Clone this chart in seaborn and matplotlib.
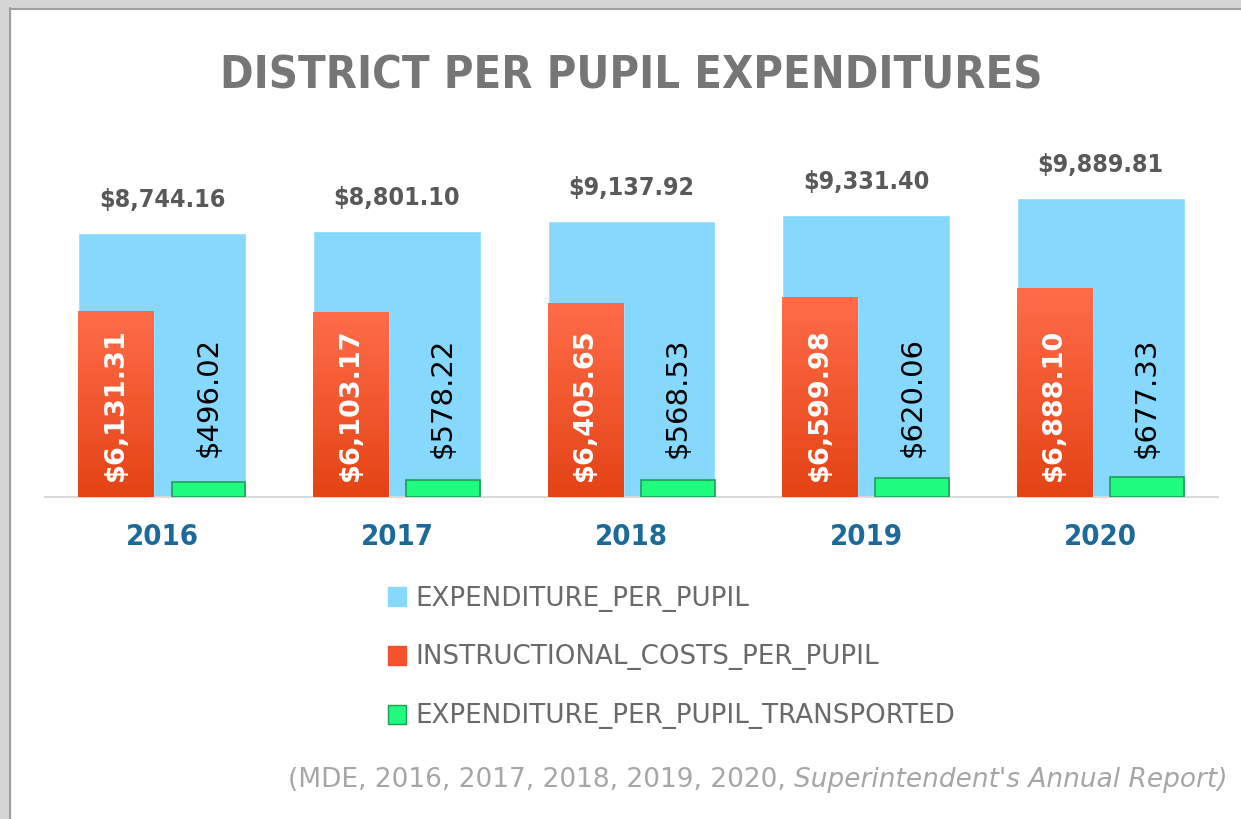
import numpy as np
import pandas as pd
import matplotlib.pyplot as plt
import matplotlib.patches as mpatches
from matplotlib.colors import LinearSegmentedColormap
import seaborn as sns

# data
years = ['2016', '2017', '2018', '2019', '2020']
expenditure = [8744.16, 8801.10, 9137.92, 9331.40, 9889.81]
instructional = [6131.31, 6103.17, 6405.65, 6599.98, 6888.10]
transported = [496.02, 578.22, 568.53, 620.06, 677.33]

df = pd.DataFrame({'Year': years, 'Expenditure': expenditure,
                   'Instructional': instructional, 'Transported': transported})

BLUE = '#87D8FD'
RED = '#F5512A'
GREEN = '#1EFB7E'

sns.set_style('white')
plt.rcParams['font.family'] = ['DejaVu Sans']

fig = plt.figure(figsize=(12.41, 8.19), dpi=100)
ax = fig.add_axes([45 / 1241, 322 / 819, 1173 / 1241, 347 / 819])

# wide blue bars
sns.barplot(data=df, x='Year', y='Expenditure', color=BLUE, width=0.715,
            saturation=1, ax=ax, zorder=2)

# narrow red / green bars inside the blue ones
xpos = np.arange(len(years))
red_bars = ax.bar(xpos - 0.198, df['Instructional'], width=0.32, color=RED,
                  zorder=3)
green_bars = ax.bar(xpos + 0.197, df['Transported'], width=0.315, color=GREEN,
                    edgecolor='#1E9E55', linewidth=1.2, zorder=3)

# gradient on the red bars
red_cmap = LinearSegmentedColormap.from_list('red', ['#E44314', '#FF6C4A'])
grad = np.linspace(0, 1, 256).reshape(-1, 1)
for b in red_bars:
    x0, w, h = b.get_x(), b.get_width(), b.get_height()
    ax.imshow(grad, extent=[x0, x0 + w, 0, h], origin='lower', aspect='auto',
              cmap=red_cmap, zorder=3.5)

ax.set_xlim(-0.5, 4.5)
ax.set_ylim(0, 11490)
ax.set_xlabel('')
ax.set_ylabel('')
ax.set_yticks([])
for s in ['top', 'right', 'left']:
    ax.spines[s].set_visible(False)
ax.spines['bottom'].set_color('#d9d9d9')
ax.spines['bottom'].set_linewidth(1.5)
ax.tick_params(axis='x', length=0, pad=19)
for lbl in ax.get_xticklabels():
    lbl.set_fontsize(21)
    lbl.set_fontweight('bold')
    lbl.set_color('#1B6A9A')
    lbl.set_fontstretch('condensed')

# value labels
for i in range(len(years)):
    ax.text(i, expenditure[i] + 700, f'${expenditure[i]:,.2f}', ha='center',
            va='bottom', fontsize=18, fontweight='bold', color='#595959',
            fontstretch='condensed')
    ax.text(i - 0.198, 3050, f'${instructional[i]:,.2f}', ha='center',
            va='center', rotation=90, fontsize=19.5, fontweight='bold',
            color='white', zorder=5)
    ax.text(i + 0.197, 3300, f'${transported[i]:,.2f}', ha='center',
            va='center', rotation=90, fontsize=21, color='black', zorder=5)

# title
fig.text(631 / 1241, 1 - 76 / 819, 'DISTRICT PER PUPIL EXPENDITURES',
         ha='center', va='center', fontsize=32.4, fontweight='bold',
         color='#767676', fontstretch='condensed')

# legend
handles = [mpatches.Patch(facecolor=BLUE, edgecolor=BLUE),
           mpatches.Patch(facecolor=RED, edgecolor=RED),
           mpatches.Patch(facecolor=GREEN, edgecolor='#1E9E55')]
labels = ['EXPENDITURE_PER_PUPIL', 'INSTRUCTIONAL_COSTS_PER_PUPIL',
          'EXPENDITURE_PER_PUPIL_TRANSPORTED']
fig.legend(handles, labels, loc='upper left',
           bbox_to_anchor=(364 / 1241, 1 - 562 / 819), frameon=False,
           fontsize=18.8, labelcolor='#6a6a6a', handlelength=0.7,
           handleheight=0.75, handletextpad=0.35, labelspacing=1.26)

# source note
src_it = fig.text(1228 / 1241, 1 - 780 / 819,
                  "Superintendent's Annual Report)", ha='right', va='center',
                  fontsize=19, style='italic', color='#a6a6a6')
fig.canvas.draw()
bb = src_it.get_window_extent()
fig.text(bb.x0 / fig.bbox.width, 1 - 780 / 819,
         '(MDE, 2016, 2017, 2018, 2019, 2020, ', ha='right', va='center',
         fontsize=19, color='#a6a6a6')

# frame on top and left
fig.patches.append(mpatches.Rectangle((0, 0), 10 / 1241, 1,
                   transform=fig.transFigure, color='#d6d6d6', zorder=0))
fig.patches.append(mpatches.Rectangle((0, 1 - 8 / 819), 1, 8 / 819,
                   transform=fig.transFigure, color='#d6d6d6', zorder=0))
fig.add_artist(plt.Line2D([10 / 1241, 10 / 1241], [0, 1 - 8 / 819],
               transform=fig.transFigure, color='#a0a0a0', lw=1.5))
fig.add_artist(plt.Line2D([10 / 1241, 1], [1 - 9 / 819, 1 - 9 / 819],
               transform=fig.transFigure, color='#a0a0a0', lw=1.5))

fig.savefig('out.png', dpi=100)
